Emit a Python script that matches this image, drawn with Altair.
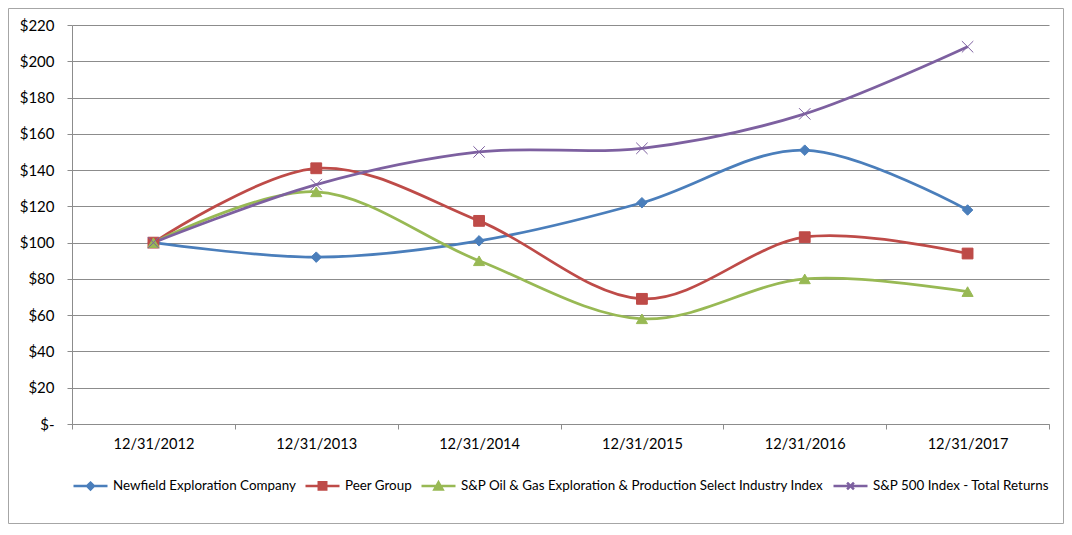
import altair as alt
import pandas as pd

dates = ["12/31/2012", "12/31/2013", "12/31/2014", "12/31/2015", "12/31/2016", "12/31/2017"]
series_names = [
    "Newfield Exploration Company",
    "Peer Group",
    "S&P Oil & Gas Exploration & Production Select Industry Index",
    "S&P 500 Index - Total Returns",
]
newfield = [100, 92, 101, 122, 151, 118]
peer = [100, 141, 112, 69, 103, 94]
sp_oil_gas = [100, 128, 90, 58, 80, 73]
sp500 = [100, 132, 150, 152, 171, 208]
colors = ["#4A7EBB", "#BE4B48", "#98B954", "#7D60A0"]
y_ticks = [0, 20, 40, 60, 80, 100, 120, 140, 160, 180, 200, 220]

rows = []
for name, vals in zip(series_names, [newfield, peer, sp_oil_gas, sp500]):
    for d, v in zip(dates, vals):
        rows.append({"date": d, "series": name, "value": v})
df = pd.DataFrame(rows)

W, H = 977, 399
FONT = "Lato"
GRID = "#8C8C8C"

x_enc = alt.X(
    "date:N",
    sort=dates,
    bandPosition=0.5,
    scale=alt.Scale(type="band", domain=dates, paddingInner=0, paddingOuter=0),
    axis=alt.Axis(
        title=None, labelAngle=0, tickBand="extent", grid=False,
        domainColor=GRID, tickColor=GRID, tickSize=5, labelPadding=7,
        labelFont=FONT, labelFontSize=14.6, labelColor="#000000",
    ),
)
y_enc = alt.Y(
    "value:Q",
    scale=alt.Scale(domain=[0, 220], nice=False, zero=True),
    axis=alt.Axis(
        title=None, values=y_ticks, grid=True, gridColor=GRID, gridWidth=1,
        domainColor=GRID, tickColor=GRID, tickSize=5, labelPadding=13,
        labelFont=FONT, labelFontSize=15, labelColor="#000000",
        labelExpr="datum.value == 0 ? '$-\u00a0\u00a0' : '$' + datum.value",
    ),
)

def cscale():
    return alt.Scale(domain=series_names, range=colors)

lines = alt.Chart(df).mark_line(interpolate="cardinal", strokeWidth=2.75).encode(
    x=x_enc, y=y_enc,
    color=alt.Color("series:N", scale=cscale(), legend=None),
)

marker_shapes = ["diamond", "square", "triangle-up", "M-1,-1L1,1M-1,1L1,-1"]
marker_sizes = [110, 130, 130, 150]
points = alt.Chart(df).mark_point(filled=True, opacity=1, strokeWidth=1).encode(
    x=x_enc, y=y_enc,
    color=alt.Color("series:N", scale=cscale(), legend=None),
    stroke=alt.Stroke("series:N", scale=cscale(), legend=None),
    shape=alt.Shape("series:N", scale=alt.Scale(domain=series_names, range=marker_shapes), legend=None),
    size=alt.Size("series:N", scale=alt.Scale(domain=series_names, range=marker_sizes), legend=None),
)

legend_paths = [
    "M-1,0L1,0M0,-0.2L0.2,0L0,0.2L-0.2,0Z",
    "M-1,0L1,0M-0.22,-0.22L0.22,-0.22L0.22,0.22L-0.22,0.22Z",
    "M-1,0L1,0M0,-0.22L0.24,0.2L-0.24,0.2Z",
    "M-1,0L1,0M-0.2,-0.2L0.2,0.2M-0.2,0.2L0.2,-0.2",
]
legend_layer = alt.Chart(df).transform_filter("false").mark_point(
    filled=True, opacity=1, size=1156, strokeWidth=2.5
).encode(
    x=x_enc, y=y_enc,
    color=alt.Color("series:N", scale=cscale(), title=None),
    stroke=alt.Stroke("series:N", scale=cscale(), title=None),
    shape=alt.Shape("series:N", scale=alt.Scale(domain=series_names, range=legend_paths), title=None),
)

frame = alt.Chart(alt.Data(values=[{}])).mark_rect(
    fill="transparent", stroke="#A6A6A6", strokeWidth=1
).encode(
    x=alt.value(-63.5), x2=alt.value(W + 14.5),
    y=alt.value(-16.5), y2=alt.value(H + 99.5),
)

chart = alt.layer(frame, lines, points, legend_layer).resolve_scale(
    color="independent", stroke="independent", shape="independent", size="independent"
).properties(
    width=W, height=H,
    autosize=alt.AutoSizeParams(type="none"),
    padding={"left": 64, "top": 17, "right": 15, "bottom": 100},
).configure_view(
    strokeOpacity=0
).configure_legend(
    orient="bottom", direction="horizontal", symbolSize=1156, symbolStrokeWidth=2.5,
    labelFont=FONT, labelFontSize=13.4, labelColor="#000000", labelLimit=600,
    labelOffset=4, columnPadding=4, offset=16, symbolOpacity=1,
)

chart.save("out.html", embed_options={"renderer": "svg", "actions": False})
